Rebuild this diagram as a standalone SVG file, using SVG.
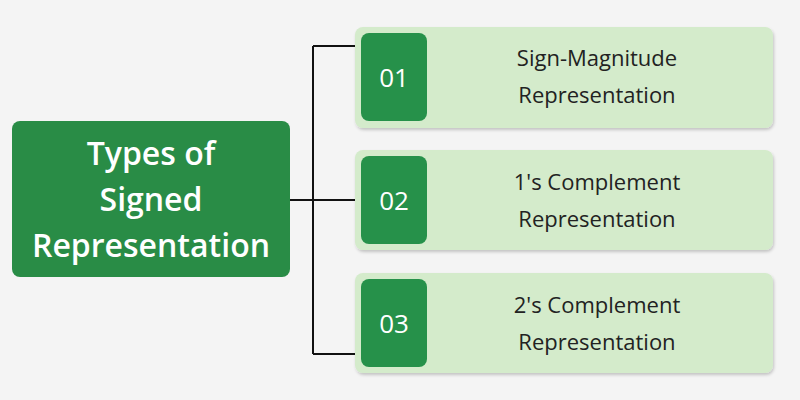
<svg xmlns="http://www.w3.org/2000/svg" width="800" height="400" viewBox="0 0 800 400">
<defs>
<filter id="sh" x="-5%" y="-5%" width="112%" height="120%"><feDropShadow dx="1" dy="2" stdDeviation="1.5" flood-color="#000" flood-opacity="0.2"/></filter>
</defs>
<style>
.card{fill:#d4ebcb;filter:url(#sh)}
.num{fill:#26914a}
.nt{font-family:"Open Sans","Noto Sans",sans-serif;font-size:26px;fill:#fff;text-anchor:middle}
.lt{font-family:"Open Sans","Noto Sans",sans-serif;font-size:22px;fill:#222;text-anchor:middle}
.mt{font-family:"Open Sans","Noto Sans",sans-serif;font-size:32px;font-weight:600;fill:#fff;text-anchor:middle}
.c{stroke:#111;stroke-width:2;fill:none}
</style>
<rect width="800" height="400" fill="#f4f4f4"/>
<g id="connectors">
<path class="c" d="M290 200H313M313 46V354M313 46H356M313 200H356M313 354H356"/>
</g>
<g id="main">
<rect x="12" y="121" width="278" height="156" rx="8" fill="#298c46"/>
<text class="mt" x="151" y="165">Types of</text>
<text class="mt" x="151" y="211">Signed</text>
<text class="mt" x="151" y="257">Representation</text>
</g>
<g id="n1">
<rect class="card" x="355" y="27" width="418" height="101" rx="8"/>
<rect class="num" x="361" y="33" width="66" height="88" rx="8"/>
<text class="nt" x="394" y="87">01</text>
<text class="lt" x="597" y="66">Sign-Magnitude</text>
<text class="lt" x="597" y="103">Representation</text>
</g>
<g id="n2">
<rect class="card" x="355" y="150" width="418" height="100" rx="8"/>
<rect class="num" x="361" y="156" width="66" height="88" rx="8"/>
<text class="nt" x="394" y="210">02</text>
<text class="lt" x="597" y="190">1's Complement</text>
<text class="lt" x="597" y="227">Representation</text>
</g>
<g id="n3">
<rect class="card" x="355" y="273" width="418" height="100" rx="8"/>
<rect class="num" x="361" y="279" width="66" height="88" rx="8"/>
<text class="nt" x="394" y="333">03</text>
<text class="lt" x="597" y="313">2's Complement</text>
<text class="lt" x="597" y="350">Representation</text>
</g>
</svg>
